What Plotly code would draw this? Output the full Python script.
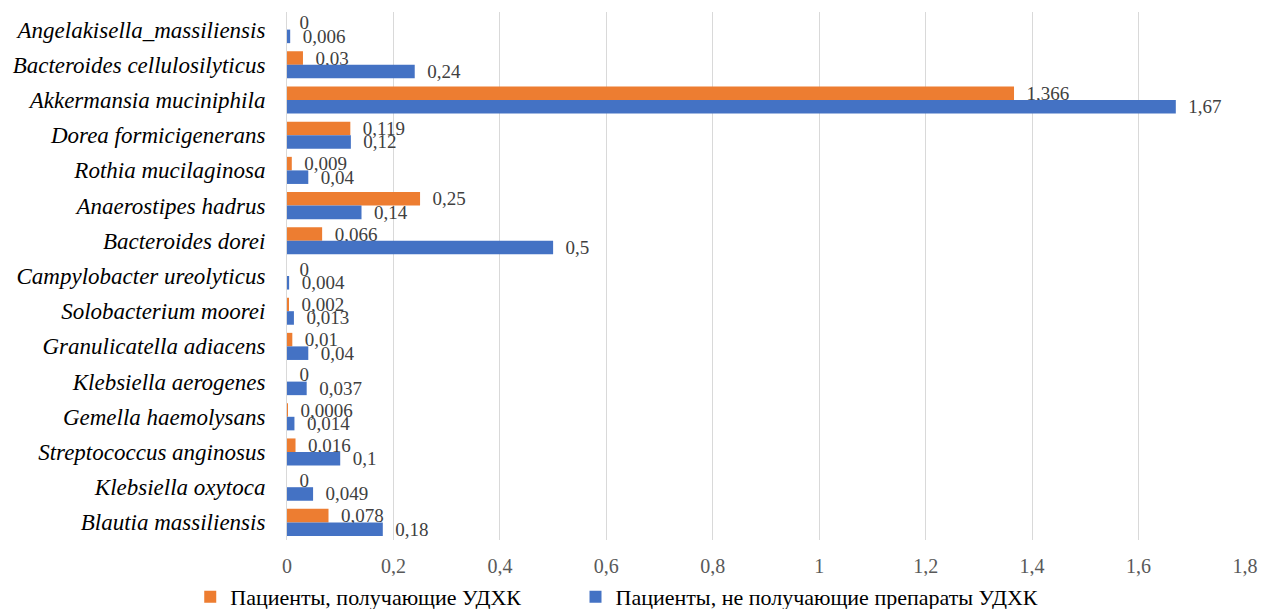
import plotly.graph_objects as go

# Bacterial species (top to bottom)
species = [
    "Angelakisella_massiliensis",
    "Bacteroides cellulosilyticus",
    "Akkermansia muciniphila",
    "Dorea formicigenerans",
    "Rothia mucilaginosa",
    "Anaerostipes hadrus",
    "Bacteroides dorei",
    "Campylobacter ureolyticus",
    "Solobacterium moorei",
    "Granulicatella adiacens",
    "Klebsiella aerogenes",
    "Gemella haemolysans",
    "Streptococcus anginosus",
    "Klebsiella oxytoca",
    "Blautia massiliensis",
]

# Relative abundance, patients receiving UDCA
with_udca = [0, 0.03, 1.366, 0.119, 0.009, 0.25, 0.066, 0, 0.002, 0.01, 0, 0.0006, 0.016, 0, 0.078]
# Relative abundance, patients not receiving UDCA
without_udca = [0.006, 0.24, 1.67, 0.12, 0.04, 0.14, 0.5, 0.004, 0.013, 0.04, 0.037, 0.014, 0.1, 0.049, 0.18]

names = ["Пациенты, получающие УДХК", "Пациенты, не получающие препараты УДХК"]
colors = ["#ED7D31", "#4472C4"]

FONT = "Liberation Serif, Times New Roman, serif"
NBSP = "\u00a0"


def fmt(v):
    return NBSP * 2 + f"{v:g}".replace(".", ",")


# extra spacing after the first legend entry
legend_names = [names[0] + NBSP * 9, names[1]]

fig = go.Figure()
for vals, name, color in zip([with_udca, without_udca], legend_names, colors):
    fig.add_trace(go.Bar(
        y=species,
        x=vals,
        name=name,
        orientation="h",
        marker=dict(color=color, line=dict(width=0)),
        text=[fmt(v) for v in vals],
        textposition="outside",
        constraintext="none",
        cliponaxis=False,
        textfont=dict(family=FONT, size=19, color="#404040"),
    ))

fig.update_layout(
    width=1263,
    height=609,
    margin=dict(l=287, r=18, t=12, b=69, autoexpand=False),
    paper_bgcolor="white",
    plot_bgcolor="white",
    barmode="group",
    bargap=0.23,
    bargroupgap=0,
    separators=", ",
    font=dict(family=FONT, color="#000000"),
    showlegend=True,
    legend=dict(
        orientation="h",
        x=-0.101, xanchor="left",
        y=-0.108, yanchor="middle",
        font=dict(family=FONT, size=22, color="#000000"),
        itemwidth=30,
        tracegroupgap=0,
    ),
    xaxis=dict(
        range=[0, 1.8],
        dtick=0.2,
        tick0=0,
        showgrid=True,
        gridcolor="#D9D9D9",
        gridwidth=1,
        zeroline=False,
        showline=False,
        ticks="",
        ticklabelstandoff=12,
        tickfont=dict(family=FONT, size=20, color="#595959"),
    ),
    yaxis=dict(
        autorange="reversed",
        showline=True,
        linecolor="#D9D9D9",
        linewidth=1,
        ticks="",
        ticklabelstandoff=16,
        tickfont=dict(family=FONT, size=23, color="#000000", style="italic"),
    ),
)

fig.write_html("out.html")
